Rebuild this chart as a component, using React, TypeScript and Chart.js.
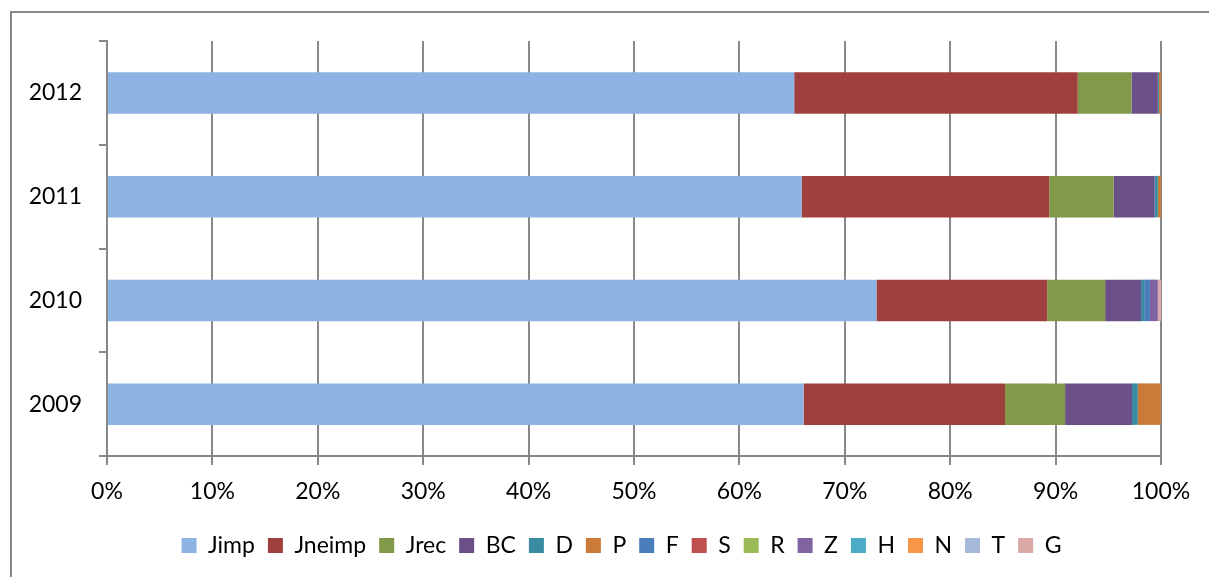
import React, { useEffect, useRef } from "react";
import { Chart, registerables } from "chart.js";

Chart.register(...registerables);

const years = ["2012", "2011", "2010", "2009"];
const seriesNames = ["Jimp", "Jneimp", "Jrec", "BC", "D", "P", "F", "S", "R", "Z", "H", "N", "T", "G"];
const jimp = [65.2, 65.9, 73.0, 66.1];
const jneimp = [26.9, 23.5, 16.2, 19.1];
const jrec = [5.1, 6.1, 5.5, 5.7];
const bc = [2.5, 3.9, 3.4, 6.35];
const d = [0.1, 0.3, 0.3, 0.55];
const p = [0.2, 0.3, 0, 2.2];
const f = [0, 0, 0.55, 0];
const s = [0, 0, 0, 0];
const r = [0, 0, 0, 0];
const z = [0, 0, 0.75, 0];
const h = [0, 0, 0, 0];
const n = [0, 0, 0, 0];
const t = [0, 0, 0, 0];
const g = [0, 0, 0.3, 0];
const xTicks = [0, 10, 20, 30, 40, 50, 60, 70, 80, 90, 100];

const seriesValues = [jimp, jneimp, jrec, bc, d, p, f, s, r, z, h, n, t, g];
const colors = [
  "#8DB3E2", "#A0403E", "#82994A", "#6A5087", "#398BA2", "#CC7A38", "#4A7EBB",
  "#C0504D", "#9BBB59", "#8064A2", "#4BACC6", "#F79646", "#A7B9DB", "#D9A8A7",
];

const FONT = "Lato, 'Liberation Sans', sans-serif";
const GRID = "#888888";

const legendShift = {
  id: "legendShift",
  afterLayout(chart: any) {
    if (chart.legend) {
      chart.legend.left += 17;
      chart.legend.right += 17;
    }
  },
};

export default function App() {
  const ref = useRef<HTMLCanvasElement | null>(null);
  useEffect(() => {
    if (!ref.current) return;
    const chart = new Chart(ref.current, {
      type: "bar",
      data: {
        labels: years,
        datasets: seriesNames.map((name, i) => ({
          label: name,
          data: seriesValues[i],
          backgroundColor: colors[i],
          borderWidth: 0,
          barPercentage: 0.4,
          categoryPercentage: 1,
        })),
      },
      plugins: [legendShift],
      options: {
        indexAxis: "y",
        responsive: false,
        animation: false,
        layout: { padding: { top: 41, left: 0, right: 0, bottom: 10 } },
        plugins: {
          tooltip: { enabled: false },
          legend: {
            position: "bottom",
            labels: {
              boxWidth: 15,
              boxHeight: 15,
              padding: 13,
              color: "#000",
              font: { family: FONT, size: 23 },
            },
          },
        },
        scales: {
          x: {
            stacked: true,
            min: 0,
            max: 100,
            afterBuildTicks: (sc: any) => {
              sc.ticks = xTicks.map((v) => ({ value: v }));
            },
            afterFit: (sc: any) => {
              sc.height = 65;
              sc.paddingRight = 48;
            },
            ticks: {
              color: "#000",
              padding: 13,
              font: { family: FONT, size: 23 },
              callback: (v: any) => v + "%",
            },
            grid: { color: GRID, lineWidth: 2, tickLength: 9 },
            border: { color: GRID, width: 2 },
          },
          y: {
            stacked: true,
            afterFit: (sc: any) => {
              sc.width = 107;
            },
            ticks: {
              color: "#000",
              padding: 17,
              font: { family: FONT, size: 23 },
            },
            grid: { offset: true, drawOnChartArea: false, color: GRID, lineWidth: 2, tickLength: 8 },
            border: { color: GRID, width: 2 },
          },
        },
      },
    });
    return () => chart.destroy();
  }, []);

  return (
    <div style={{ position: "fixed", left: 0, top: 0, width: 1209, height: 577, background: "#fff", overflow: "hidden" }}>
      <div
        style={{
          position: "absolute",
          left: 10,
          top: 11,
          width: 1400,
          height: 800,
          borderTop: "2px solid #888",
          borderLeft: "2px solid #888",
        }}
      />
      <canvas ref={ref} width={1209} height={577} style={{ position: "absolute", left: 0, top: 0 }} />
    </div>
  );
}
